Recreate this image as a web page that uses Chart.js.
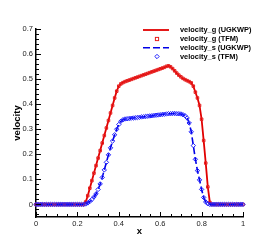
<!DOCTYPE html>
<html>
<head>
<meta charset="utf-8">
<script src="https://cdn.jsdelivr.net/npm/chart.js@4/dist/chart.umd.min.js"></script>
<style>
html,body{margin:0;padding:0;background:#fff;}
#wrap{width:276px;height:245px;position:relative;}
</style>
</head>
<body>
<div id="wrap"><canvas id="c" width="276" height="245"></canvas></div>
<script>
const xValues = [0,0.01,0.02,0.03,0.04,0.05,0.06,0.07,0.08,0.09,0.1,0.11,0.12,0.13,0.14,0.15,0.16,0.17,0.18,0.19,0.2,0.21,0.22,0.23,0.24,0.25,0.26,0.27,0.28,0.29,0.3,0.31,0.32,0.33,0.34,0.35,0.36,0.37,0.38,0.39,0.4,0.41,0.42,0.43,0.44,0.45,0.46,0.47,0.48,0.49,0.5,0.51,0.52,0.53,0.54,0.55,0.56,0.57,0.58,0.59,0.6,0.61,0.62,0.63,0.64,0.65,0.66,0.67,0.68,0.69,0.7,0.71,0.72,0.73,0.74,0.75,0.76,0.77,0.78,0.79,0.8,0.81,0.82,0.83,0.84,0.85,0.86,0.87,0.88,0.89,0.9,0.91,0.92,0.93,0.94,0.95,0.96,0.97,0.98,0.99,1];

const velocityGasUGKWP = [0,0,0,0,0,0,0,0,0,0,0,0,0,0,0,0,0,0,0,0,0,0,0,0,
0.01,0.035,0.065,0.095,0.125,0.155,0.185,0.215,0.245,0.275,0.305,0.335,0.365,0.395,0.425,0.452,
0.472,0.481,0.486,0.490,0.493,0.496,0.499,0.502,0.505,0.508,0.511,0.514,0.517,0.520,0.523,0.526,
0.529,0.532,0.535,0.538,0.541,0.544,0.547,0.551,0.553,0.549,0.542,0.533,0.524,0.516,0.509,0.503,
0.498,0.494,0.490,0.485,0.472,0.448,0.425,0.395,0.340,0.255,0.165,0.070,0.008,
0,0,0,0,0,0,0,0,0,0,0,0,0,0,0,0];
const velocityGasTFM = velocityGasUGKWP;

const velocitySolidUGKWP = [0,0,0,0,0,0,0,0,0,0,0,0,0,0,0,0,0,0,0,0,0,0,0,0,
0.002,0.006,0.012,0.02,0.03,0.042,0.06,0.082,0.108,0.138,0.168,0.198,0.226,0.253,0.278,0.300,
0.319,0.332,0.338,0.341,0.342,0.343,0.344,0.345,0.346,0.347,0.348,0.349,0.350,0.351,0.352,0.353,
0.354,0.355,0.356,0.357,0.358,0.359,0.360,0.361,0.362,0.362,0.363,0.363,0.362,0.362,0.361,0.358,
0.354,0.345,0.325,0.290,0.235,0.180,0.135,0.098,0.060,0.028,0.010,0.003,
0,0,0,0,0,0,0,0,0,0,0,0,0,0,0,0,0];
const velocitySolidTFM = velocitySolidUGKWP;

const xTickLabels = [0,0.2,0.4,0.6,0.8,1];
const yTickLabels = [0,0.1,0.2,0.3,0.4,0.5,0.6,0.7];
const seriesNames = ['velocity_g (UGKWP)','velocity_g (TFM)','velocity_s (UGKWP)','velocity_s (TFM)'];

const RED = 'rgb(225,0,0)';
const RED_M = 'rgb(230,30,30)';
const BLUE = 'rgb(0,0,230)';
const BLUE_M = 'rgb(30,30,255)';
const FONT = '"Liberation Sans", Arial, Helvetica, sans-serif';

function pts(arr){ return xValues.map((x,i)=>({x:x, y:arr[i]})); }

const ticksPlugin = {
  id:'inTicks',
  afterDraw(chart){
    const ctx = chart.ctx, xs = chart.scales.x, ys = chart.scales.y;
    const bottom = chart.chartArea.bottom, left = chart.chartArea.left;
    ctx.save();
    ctx.strokeStyle = '#000';
    ctx.lineWidth = 1;
    for (let k=0;k<=20;k++){
      const v = k*0.05;
      const px = Math.round(xs.getPixelForValue(v))+0.5;
      const len = (k%4===0)?5:3;
      ctx.beginPath(); ctx.moveTo(px,bottom); ctx.lineTo(px,bottom-len); ctx.stroke();
    }
    for (let k=-2;k<=35;k++){
      const v = k*0.02;
      const py = Math.round(ys.getPixelForValue(v))+0.5;
      const len = (k%5===0)?5:3;
      ctx.beginPath(); ctx.moveTo(left,py); ctx.lineTo(left+len,py); ctx.stroke();
    }
    const rows = [30,39,47.7,56.5];
    const lx0 = 143, lx1 = 169, mx = 157, tx = 180;
    ctx.font = 'bold 7.4px ' + FONT;
    ctx.textBaseline = 'middle';
    ctx.fillStyle = '#000';
    rows.forEach((y,i)=>{ ctx.fillText(seriesNames[i], tx, y); });
    ctx.lineWidth = 1.8;
    ctx.strokeStyle = RED; ctx.setLineDash([]);
    ctx.beginPath(); ctx.moveTo(lx0,rows[0]); ctx.lineTo(lx1,rows[0]); ctx.stroke();
    ctx.lineWidth = 1.6;
    ctx.strokeStyle = BLUE; ctx.setLineDash([7,3]);
    ctx.beginPath(); ctx.moveTo(lx0,rows[2]); ctx.lineTo(lx1,rows[2]); ctx.stroke();
    ctx.setLineDash([]);
    ctx.lineWidth = 1;
    ctx.strokeStyle = RED_M;
    ctx.strokeRect(mx-1.6, rows[1]-1.6, 3.2, 3.2);
    ctx.strokeStyle = BLUE_M;
    ctx.beginPath(); ctx.moveTo(mx, rows[3]-2.2); ctx.lineTo(mx+2.2, rows[3]); ctx.lineTo(mx, rows[3]+2.2); ctx.lineTo(mx-2.2, rows[3]); ctx.closePath(); ctx.stroke();
    ctx.restore();
  }
};

new Chart(document.getElementById('c'), {
  type:'line',
  data:{
    datasets:[
      {label:seriesNames[0], data:pts(velocityGasUGKWP), borderColor:RED, borderWidth:1.8, pointRadius:0, fill:false, order:4, clip:false, tension:0},
      {label:seriesNames[1], data:pts(velocityGasTFM), showLine:false, pointStyle:'rect', pointRadius:1.8, pointBorderWidth:1, pointBorderColor:RED_M, pointBackgroundColor:'rgba(0,0,0,0)', order:3, clip:false},
      {label:seriesNames[2], data:pts(velocitySolidUGKWP), borderColor:BLUE, borderWidth:1.6, borderDash:[7,3], pointRadius:0, fill:false, order:2, clip:false, tension:0},
      {label:seriesNames[3], data:pts(velocitySolidTFM), showLine:false, pointStyle:'rectRot', pointRadius:2.2, pointBorderWidth:1, pointBorderColor:BLUE_M, pointBackgroundColor:'rgba(0,0,0,0)', order:1, clip:false}
    ]
  },
  options:{
    responsive:false,
    animation:false,
    devicePixelRatio:1,
    layout:{padding:{left:0, top:29, right:33, bottom:0}},
    plugins:{legend:{display:false}, tooltip:{enabled:false}},
    scales:{
      x:{
        type:'linear', min:0, max:1,
        afterFit(s){ s.height = 28; },
        afterBuildTicks(s){ s.ticks = xTickLabels.map(v=>({value:v})); },
        grid:{display:false, drawTicks:false},
        border:{display:true, color:'#000', width:1.5},
        ticks:{padding:2, color:'#222', font:{family:FONT, size:7.5}, maxRotation:0, autoSkip:false,
          callback:(v)=>String(+Number(v).toFixed(2))},
        title:{display:true, text:'x', color:'#000', font:{family:FONT, size:9.5, weight:'bold'}, padding:{top:0,bottom:8}}
      },
      y:{
        type:'linear', min:-0.05, max:0.7,
        afterFit(s){ s.width = 36; },
        afterBuildTicks(s){ s.ticks = yTickLabels.map(v=>({value:v})); },
        grid:{display:false, drawTicks:false},
        border:{display:true, color:'#000', width:1.5},
        ticks:{padding:3, color:'#222', font:{family:FONT, size:7.5}, autoSkip:false,
          callback:(v)=>String(+Number(v).toFixed(2))},
        title:{display:true, text:'velocity', color:'#000', font:{family:FONT, size:9.5, weight:'bold'}, padding:{top:11.5,bottom:0}}
      }
    }
  },
  plugins:[ticksPlugin]
});
</script>
</body>
</html>
